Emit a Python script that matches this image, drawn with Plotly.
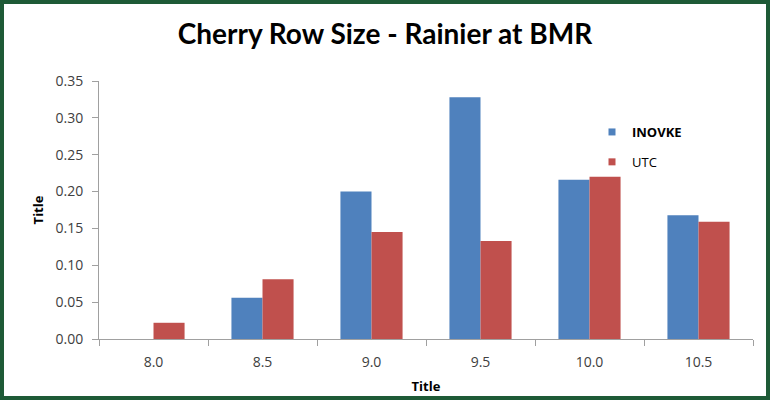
import plotly.graph_objects as go

categories = ["8.0", "8.5", "9.0", "9.5", "10.0", "10.5"]
inovke = [0.0, 0.056, 0.200, 0.328, 0.216, 0.168]
utc = [0.022, 0.081, 0.145, 0.133, 0.220, 0.159]
series_names = ["INOVKE", "UTC"]
colors = ["#4F81BD", "#C0504D"]
y_ticks = [0.0, 0.05, 0.10, 0.15, 0.20, 0.25, 0.30, 0.35]

W, H = 770, 400
L, R, T, B = 99, 17, 81, 61
pw, ph = W - L - R, H - T - B

fig = go.Figure()
for name, vals, c in zip(series_names, [inovke, utc], colors):
    fig.add_trace(go.Bar(x=categories, y=vals, name=name, marker=dict(color=c, line=dict(width=0)),
                         showlegend=False))
# legend entries with small square markers
for name, c, lbl in zip(series_names, colors, ["<b>INOVKE</b>", "UTC"]):
    fig.add_trace(go.Scatter(x=[None], y=[None], mode="markers", name=lbl, legendgroup=name,
                             marker=dict(symbol="square", size=7, color=c)))

def px(x):
    return (x - L) / pw

def py(y):
    return (H - B - y) / ph

fig.add_shape(type="rect", xref="paper", yref="paper",
              x0=px(2), x1=px(768), y0=py(398), y1=py(2),
              line=dict(color="#1E5A36", width=4), fillcolor="rgba(0,0,0,0)", layer="above")

fig.update_layout(
    width=W, height=H,
    margin=dict(l=L, r=R, t=T, b=B, pad=0, autoexpand=False),
    paper_bgcolor="white", plot_bgcolor="white",
    barmode="group", bargap=0.43, bargroupgap=0,
    font=dict(family="Open Sans", size=14, color="#404040"),
    title=dict(text="<b>Cherry Row Size - Rainier at BMR</b>", x=0.5, xanchor="center",
               y=1 - 44 / H, yanchor="bottom", yref="container",
               font=dict(family="Lato", size=28, color="black")),
    legend=dict(x=px(592), xanchor="left", y=py(117), yanchor="top",
                font=dict(family="Open Sans", size=13, color="black"),
                tracegroupgap=10, traceorder="grouped", bgcolor="rgba(0,0,0,0)"),
    xaxis=dict(type="category", showline=True, linecolor="#A0A0A0", linewidth=1,
               ticks="outside", tickson="boundaries", ticklen=6, tickcolor="#A0A0A0",
               showgrid=False, zeroline=False, ticklabelstandoff=10, automargin=False,
               title=dict(text="<b>Title</b>", font=dict(family="Open Sans", size=13, color="black"),
                          standoff=12)),
    yaxis=dict(range=[0, 0.35], tickvals=y_ticks, tickformat=".2f", showline=True,
               linecolor="#A0A0A0", linewidth=1, ticks="outside", ticklen=6, tickcolor="#A0A0A0",
               showgrid=False, zeroline=False, ticklabelstandoff=6, automargin=False,
               title=dict(text="<b>Title</b>", font=dict(family="Open Sans", size=13, color="black"),
                          standoff=8)),
)

fig.write_html("out.html", config={"displayModeBar": False},
               post_script="document.body.style.margin='0';document.body.style.overflow='hidden';")
